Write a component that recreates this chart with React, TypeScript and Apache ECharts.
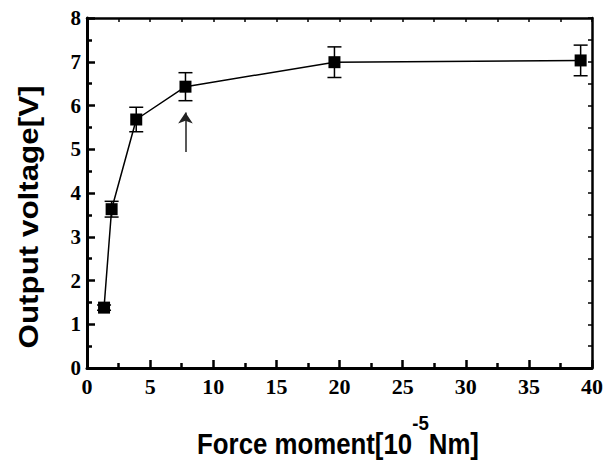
import React, { useEffect, useRef } from "react";
import * as echarts from "echarts";

const xValues = [1.35, 1.95, 3.9, 7.8, 19.6, 39.1];
const yValues = [1.38, 3.63, 5.68, 6.43, 6.99, 7.03];
const yErrors = [0.06, 0.18, 0.28, 0.32, 0.35, 0.35];
const arrowFrom = [7.8, 4.94];
const arrowTo = [7.8, 5.84];
const xTitle = "Force moment[10";
const xTitleSup = "-5";
const xTitleEnd = "Nm]";
const yTitle = "Output voltage[V]";

export default function App() {
  const ref = useRef<HTMLDivElement>(null);
  useEffect(() => {
    if (!ref.current) return;
    const chart = echarts.init(ref.current, undefined, { renderer: "svg" });
    const pts = xValues.map((x, i) => [x, yValues[i]]);
    const errData = xValues.map((x, i) => [x, yValues[i], yErrors[i]]);
    chart.setOption({
      animation: false,
      backgroundColor: "#fff",
      grid: { left: 87, right: 20, top: 18, bottom: 94 },
      xAxis: [
        {
          type: "value", min: 0, max: 40, interval: 5, position: "bottom",
          axisLine: { show: true, onZero: false, lineStyle: { color: "#000", width: 3 } },
          axisTick: { show: true, inside: true, length: 8, lineStyle: { color: "#000", width: 2.5 } },
          minorTick: { show: true, splitNumber: 2, length: 5, lineStyle: { color: "#000", width: 2.5 } },
          splitLine: { show: false },
          axisLabel: { show: true, fontFamily: "Liberation Serif", fontWeight: "bold", fontSize: 22, color: "#000", margin: 7 },
        },
        {
          type: "value", min: 0, max: 40, interval: 2.5, position: "top",
          axisLine: { show: true, onZero: false, lineStyle: { color: "#000", width: 2.5 } },
          axisTick: { show: true, inside: true, length: 4, lineStyle: { color: "#000", width: 1.5 } },
          splitLine: { show: false },
          axisLabel: { show: false },
        },
      ],
      yAxis: [
        {
          type: "value", min: 0, max: 8, interval: 1, position: "left",
          axisLine: { show: true, onZero: false, lineStyle: { color: "#000", width: 3 } },
          axisTick: { show: true, inside: true, length: 8, lineStyle: { color: "#000", width: 2.5 } },
          minorTick: { show: true, splitNumber: 2, length: 5, lineStyle: { color: "#000", width: 2.5 } },
          splitLine: { show: false },
          axisLabel: { show: true, fontFamily: "Liberation Serif", fontWeight: "bold", fontSize: 21, color: "#000", margin: 6 },
        },
        {
          type: "value", min: 0, max: 8, interval: 0.5, position: "right",
          axisLine: { show: true, onZero: false, lineStyle: { color: "#000", width: 2.5 } },
          axisTick: { show: true, inside: true, length: 4, lineStyle: { color: "#000", width: 1.5 } },
          splitLine: { show: false },
          axisLabel: { show: false },
        },
      ],
      series: [
        {
          type: "custom", xAxisIndex: 0, yAxisIndex: 0, data: errData,
          renderItem: (params: any, api: any) => {
            const x = api.value(0);
            const y = api.value(1);
            const e = api.value(2);
            const top = api.coord([x, y + e]);
            const bot = api.coord([x, y - e]);
            const hw = 7;
            const st = { stroke: "#000", lineWidth: 1.5 };
            return {
              type: "group",
              children: [
                { type: "line", shape: { x1: top[0], y1: top[1], x2: bot[0], y2: bot[1] }, style: st },
                { type: "line", shape: { x1: top[0] - hw, y1: top[1], x2: top[0] + hw, y2: top[1] }, style: st },
                { type: "line", shape: { x1: bot[0] - hw, y1: bot[1], x2: bot[0] + hw, y2: bot[1] }, style: st },
              ],
            };
          },
        },
        {
          type: "line", xAxisIndex: 0, yAxisIndex: 0, data: pts, symbol: "rect", symbolSize: 12,
          itemStyle: { color: "#000" }, lineStyle: { color: "#000", width: 1.5 },
          markLine: {
            silent: true, symbol: ["none", "arrow"], symbolSize: 11, label: { show: false },
            lineStyle: { color: "#222", width: 1.5, type: "solid" },
            data: [[{ coord: arrowFrom }, { coord: arrowTo }]],
          },
        },
      ],
    });
    chart.setOption({
      graphic: [
        {
          type: "text",
          x: 28,
          y: 217,
          rotation: Math.PI / 2,
          scaleX: 1.12,
          style: {
            text: yTitle,
            fontFamily: "Liberation Sans",
            fontWeight: "bold",
            fontSize: 28,
            fill: "#000",
            align: "center",
            verticalAlign: "middle",
          },
        },
        {
          type: "text",
          x: 338,
          y: 444,
          scaleX: 0.89,
          style: {
            text: `{a|${xTitle}}{b|${xTitleSup}}{a|${xTitleEnd}}`,
            align: "center",
            verticalAlign: "middle",
            fill: "#000",
            rich: {
              a: { fontFamily: "Liberation Sans", fontWeight: "bold", fontSize: 29, lineHeight: 64, fill: "#000" },
              b: { fontFamily: "Liberation Sans", fontWeight: "bold", fontSize: 21, lineHeight: 21, verticalAlign: "top", fill: "#000" },
            },
          },
        },
      ],
    });
    return () => chart.dispose();
  }, []);
  return (
    <div
      ref={ref}
      style={{ position: "absolute", left: 0, top: 0, width: 612, height: 462, background: "#fff" }}
    />
  );
}
